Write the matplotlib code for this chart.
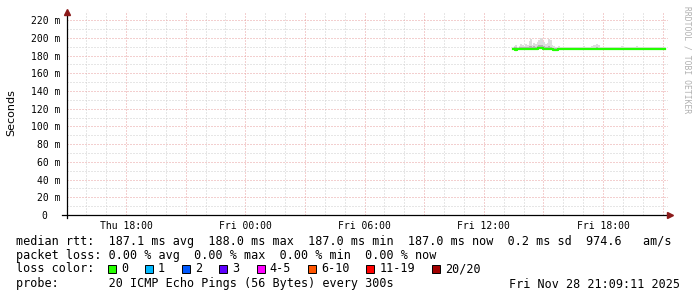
import numpy as np
import matplotlib
matplotlib.use('Agg')
from matplotlib import pyplot as plt
from matplotlib.patches import Rectangle

# hours since Thu 00:00, one sample every 300 s
t_start = 37.46
median_ms = [187.0, 187.0, 186.8, 187.0, 187.1, 187.0, 186.9, 187.0, 187.2, 187.0,
             187.1, 187.3, 187.0, 187.1, 187.2, 187.5, 188.0, 188.4, 188.1, 187.8,
             187.6, 187.4, 187.8, 187.2, 187.0, 186.6, 186.8, 186.5, 187.0, 187.1,
             187.0, 187.0, 186.9, 187.0, 187.1, 187.0, 187.0, 186.9, 187.0, 187.0,
             187.1, 187.0, 187.0, 187.0, 186.9, 187.0, 187.0, 187.1, 187.0, 187.0,
             187.0, 187.2, 187.1, 187.0, 187.0, 186.9, 187.0, 187.0, 187.0, 187.0,
             187.0, 187.1, 187.0, 187.0, 187.0, 187.0, 186.9, 187.0, 187.0, 187.0,
             187.0, 187.0, 187.1, 187.0, 187.0, 187.0, 187.0, 186.9, 187.0, 187.0,
             187.0, 187.0, 187.0, 187.1, 187.0, 187.0, 187.0, 187.0, 187.0, 187.0,
             187.0, 187.0, 187.0]
smoke_max = [190, 191, 192, 190, 191, 193, 192, 191, 193, 192,
             196, 199, 192, 194, 193, 195, 198, 200, 199, 195,
             193, 194, 199, 197, 192, 191, 190, 190, 191, 190,
             190, 189.5, 190, 189.5, 190, 190, 189.5, 190, 189.5, 190,
             189.5, 190, 190, 190.5, 190, 189.5, 190, 190, 191, 191.5,
             192, 193, 192, 190, 190, 189.5, 190, 189.5, 190, 190,
             189.5, 190, 190, 189.5, 190, 190, 191, 190, 189.5, 190,
             190, 189.5, 190, 190, 189.5, 191, 190, 189.5, 190, 190,
             189.5, 190, 190, 189.5, 190, 190, 189.5, 190, 190, 189.5,
             190, 189.5, 190]
smoke_mid = [189, 189.5, 190, 189, 189.5, 190, 190, 189.5, 190, 190,
             190.5, 191, 190, 190.5, 190, 191, 191.5, 192, 191.5, 190.5,
             190, 190, 191, 190, 189, 188.5, 188, 188, 188.5, 188,
             188, 188, 188, 188, 188, 188, 188, 188, 188, 188,
             188, 188, 188, 188.5, 188, 188, 188, 188, 188.5, 189,
             189, 189.5, 189, 188, 188, 188, 188, 188, 188, 188,
             188, 188, 188, 188, 188, 188, 188.5, 188, 188, 188,
             188, 188, 188, 188, 188, 188.5, 188, 188, 188, 188,
             188, 188, 188, 188, 188, 188, 188, 188, 188, 188,
             188, 188, 188]

x_range = (15.03, 45.27)
y_range = (0, 228)
x_ticks = [18, 24, 30, 36, 42]
x_labels = ['Thu 18:00', 'Fri 00:00', 'Fri 06:00', 'Fri 12:00', 'Fri 18:00']

loss_colors = ['#26ff00', '#00b8ff', '#0059ff', '#5e00ff', '#ff00ff', '#ff5500', '#ff0000', '#a10000']
loss_labels = ['0', '1', '2', '3', '4-5', '6-10', '11-19', '20/20']

legend_lines = [
    'median rtt:  187.1 ms avg  188.0 ms max  187.0 ms min  187.0 ms now  0.2 ms sd  974.6   am/s',
    'packet loss: 0.00 % avg  0.00 % max  0.00 % min  0.00 % now',
    'loss color:',
    'probe:       20 ICMP Echo Pings (56 Bytes) every 300s',
]
stamp = 'Fri Nov 28 21:09:11 2025'

W, H = 697, 297
fig = plt.figure(figsize=(W / 100, H / 100), dpi=100)
fig.patch.set_facecolor('white')
ax = fig.add_axes([67 / W, 1 - 215 / H, 601 / W, (215 - 13) / H])

times = t_start + np.arange(len(median_ms)) * 5 / 60
ax.fill_between(times, median_ms, smoke_max, color='#dddddd', lw=0, step='mid')
ax.fill_between(times, median_ms, smoke_mid, color='#b4b4b4', lw=0, step='mid')
ax.plot(times, median_ms, color='#22ff00', lw=1.6, drawstyle='steps-mid', zorder=5)

ax.set_xlim(*x_range)
ax.set_ylim(*y_range)

major_x = np.arange(18, 46, 3)
ax.set_xticks(major_x)
ax.set_xticklabels([x_labels[x_ticks.index(v)] if v in x_ticks else '' for v in major_x],
                   family='DejaVu Sans Mono', fontsize=7)
ax.set_xticks(np.arange(16, 46, 1), minor=True)
ax.set_yticks(np.arange(0, 221, 20))
ax.set_yticklabels(['0  '] + ['%d m' % v for v in range(20, 221, 20)],
                   family='DejaVu Sans Mono', fontsize=7)
ax.set_yticks(np.arange(10, 228, 10), minor=True)

ax.grid(which='minor', color='#cfcfcf', lw=0.72, ls=(0, (1, 2)))
ax.grid(which='major', color='#e8a0a0', lw=0.72, ls=(0, (1, 2)))
ax.set_axisbelow(True)
ax.tick_params(which='both', length=0, pad=3)
ax.tick_params(axis='y', pad=5)
ax.tick_params(axis='x', pad=4)

for s in ax.spines.values():
    s.set_visible(False)

# axes with arrows
ax.plot([-0.008, 1.0], [0, 0], color='black', lw=0.9, transform=ax.transAxes, clip_on=False, zorder=6)
ax.plot([0, 0], [-0.015, 1.0], color='black', lw=0.9, transform=ax.transAxes, clip_on=False, zorder=6)
ax.plot([1.004], [0], marker='>', ms=4, color='#8b1a1a', transform=ax.transAxes, clip_on=False, zorder=7)
ax.plot([0], [1.004], marker='^', ms=4, color='#8b1a1a', transform=ax.transAxes, clip_on=False, zorder=7)

fig.text(11 / W, 1 - 113 / H, 'Seconds', rotation=90, ha='center', va='center',
         family='DejaVu Sans', fontsize=8)
fig.text(687 / W, 1 - 60 / H, 'RRDTOOL / TOBI OETIKER', rotation=270, ha='center', va='center',
         family='DejaVu Sans Mono', fontsize=5.8, color='#b0b0b0')

mono = dict(family='DejaVu Sans Mono', fontsize=8.5, va='center')
line_y = [241, 255, 269, 284]
for txt, y in zip(legend_lines, line_y):
    fig.text(16 / W, 1 - y / H, txt, **mono)
fig.text(680 / W, 1 - 284 / H, stamp, ha='right', **mono)

cw = 7.125
x = 108
for c, lab in zip(loss_colors, loss_labels):
    fig.patches.append(Rectangle((x / W, 1 - 273 / H), 8 / W, 8 / H, transform=fig.transFigure,
                                 facecolor=c, edgecolor='black', lw=0.7))
    fig.text((x + 13) / W, 1 - 269 / H, lab, **mono)
    x += 13 + len(lab) * cw + 17

fig.savefig('out.png', dpi=100)
